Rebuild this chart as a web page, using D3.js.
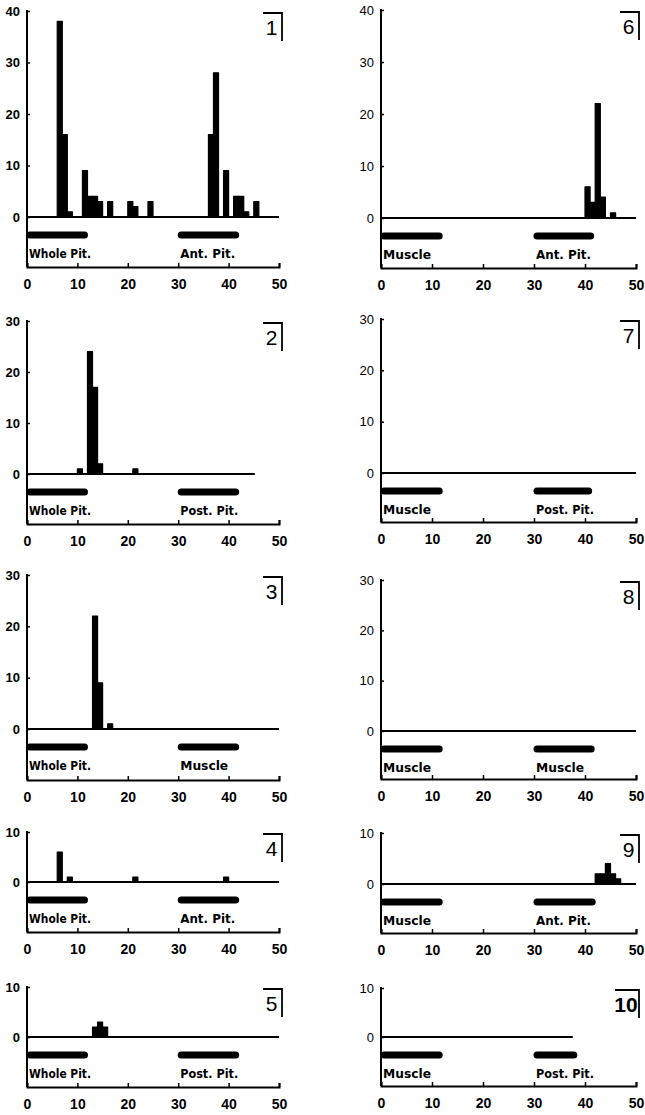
<!DOCTYPE html>
<html>
<head>
<meta charset="utf-8">
<script src="https://cdn.jsdelivr.net/npm/d3@7"></script>
<style>
  html, body { margin: 0; padding: 0; background: #fff; }
  svg { display: block; }
  text { fill: #000; }
</style>
</head>
<body>
<svg id="chart" width="645" height="1115"></svg>
<script>
// ---------- DATA ----------
const xTicks = [0, 10, 20, 30, 40, 50];
const yTicks40 = [0, 10, 20, 30, 40];
const yTicks30 = [0, 10, 20, 30];
const yTicks10 = [0, 10];

// bin start (x, 1 unit wide) and counts per panel
const p1Bins   = [6, 7, 8, 11, 12, 13, 14, 16, 20, 21, 24, 36, 37, 39, 41, 42, 43, 45];
const p1Counts = [38, 16, 1, 9, 4, 4, 3, 3, 3, 2, 3, 16, 28, 9, 4, 4, 1, 3];
const p2Bins   = [10, 12, 13, 14, 21];
const p2Counts = [1, 24, 17, 2, 1];
const p3Bins   = [13, 14, 16];
const p3Counts = [22, 9, 1];
const p4Bins   = [6, 8, 21, 39];
const p4Counts = [6, 1, 1, 1];
const p5Bins   = [13, 14, 15];
const p5Counts = [2, 3, 2];
const p6Bins   = [40, 41, 42, 43, 45];
const p6Counts = [6, 3, 22, 4, 1];
const p7Bins = [], p7Counts = [];
const p8Bins = [], p8Counts = [];
const p9Bins   = [42, 43, 44, 45, 46];
const p9Counts = [2, 2, 4, 2, 1];
const p10Bins = [], p10Counts = [];

const panelIds    = [1, 2, 3, 4, 5, 6, 7, 8, 9, 10];
const yMaxes      = [40, 30, 30, 10, 10, 40, 30, 30, 10, 10];
const leftLabels  = ["Whole Pit.", "Whole Pit.", "Whole Pit.", "Whole Pit.", "Whole Pit.",
                     "Muscle", "Muscle", "Muscle", "Muscle", "Muscle"];
const rightLabels = ["Ant. Pit.", "Post. Pit.", "Muscle", "Ant. Pit.", "Post. Pit.",
                     "Ant. Pit.", "Post. Pit.", "Muscle", "Ant. Pit.", "Post. Pit."];
const leftBarRange  = [0, 12];
const rightBarEnds  = [42, 42, 42, 42, 42, 41.7, 41.3, 41.8, 42, 38.4];
const rightBarStart = 30;
const baselineEnds  = [50, 45.2, 50, 50, 50, 50, 50, 50, 50, 37.6];
const allBins   = [p1Bins, p2Bins, p3Bins, p4Bins, p5Bins, p6Bins, p7Bins, p8Bins, p9Bins, p10Bins];
const allCounts = [p1Counts, p2Counts, p3Counts, p4Counts, p5Counts, p6Counts, p7Counts, p8Counts, p9Counts, p10Counts];

// ---------- LAYOUT (pixels) ----------
const cols = { left: [27, 279], right: [381, 636] };
const layout = [
  { col: "left",  top: 11,  zero: 217,  bottom: 267 },
  { col: "left",  top: 321, zero: 474,  bottom: 524 },
  { col: "left",  top: 575, zero: 729,  bottom: 780 },
  { col: "left",  top: 832, zero: 882,  bottom: 932 },
  { col: "left",  top: 987, zero: 1037, bottom: 1087 },
  { col: "right", top: 10,  zero: 218,  bottom: 268 },
  { col: "right", top: 319, zero: 473,  bottom: 522 },
  { col: "right", top: 580, zero: 731,  bottom: 779 },
  { col: "right", top: 833, zero: 884,  bottom: 933 },
  { col: "right", top: 988, zero: 1037, bottom: 1086 }
];
const labelWidths = { "Whole Pit.": 62, "Ant. Pit.": 55, "Post. Pit.": 58, "Muscle": 48 };

const svg = d3.select("#chart");
const FONT = "'Liberation Sans', Arial, sans-serif";

panelIds.forEach((id, i) => {
  const L = layout[i];
  const [x0, x1] = cols[L.col];
  const yMax = yMaxes[i];
  const yTicks = yMax === 40 ? yTicks40 : (yMax === 30 ? yTicks30 : yTicks10);
  const x = d3.scaleLinear().domain([0, 50]).range([x0, x1]);
  const y = d3.scaleLinear().domain([0, yMax]).range([L.zero, L.top]);
  const g = svg.append("g");

  // bars
  const data = allBins[i].map((b, k) => ({ b, c: allCounts[i][k] }));
  g.selectAll("rect.bar").data(data).join("rect")
    .attr("class", "bar")
    .attr("x", d => x(d.b))
    .attr("width", d => x(d.b + 1) - x(d.b))
    .attr("y", d => y(d.c))
    .attr("height", d => y(0) - y(d.c))
    .attr("fill", "#000")
    .attr("stroke", "#000")
    .attr("stroke-width", 1.2)
    .attr("stroke-linejoin", "round");

  // zero baseline
  g.append("line")
    .attr("x1", x(0)).attr("x2", x(baselineEnds[i]))
    .attr("y1", y(0)).attr("y2", y(0))
    .attr("stroke", "#000").attr("stroke-width", 2);

  // y axis line
  g.append("line")
    .attr("x1", x0).attr("x2", x0)
    .attr("y1", L.top - 1).attr("y2", L.bottom)
    .attr("stroke", "#000").attr("stroke-width", 2);

  // y ticks
  const yAxis = d3.axisLeft(y).tickValues(yTicks).tickSize(-3).tickPadding(7)
    .tickFormat(d3.format("d"));
  const ya = g.append("g").attr("transform", `translate(${x0},0)`).call(yAxis);
  ya.select(".domain").remove();
  ya.selectAll("line").attr("stroke", "#000").attr("stroke-width", 1.5);
  ya.selectAll("text")
    .attr("font-family", FONT)
    .attr("font-size", 13)
    .attr("font-weight", L.col === "left" ? "bold" : "normal")
    .attr("fill", "#000");

  // bottom x axis
  const xAxis = d3.axisBottom(x).tickValues(xTicks).tickSize(-4).tickPadding(12)
    .tickFormat(d3.format("d"));
  const xa = g.append("g").attr("transform", `translate(0,${L.bottom})`).call(xAxis);
  xa.select(".domain").attr("stroke", "#000").attr("stroke-width", 2);
  xa.selectAll("line").attr("stroke", "#000").attr("stroke-width", 1.5);
  xa.selectAll("text")
    .attr("font-family", FONT)
    .attr("font-size", 14)
    .attr("font-weight", "bold")
    .attr("fill", "#000");

  // label bars
  const barY = L.zero + 18;
  const segs = [
    { s: leftBarRange[0], e: leftBarRange[1], label: leftLabels[i] },
    { s: rightBarStart, e: rightBarEnds[i], label: rightLabels[i] }
  ];
  g.selectAll("line.seg").data(segs).join("line")
    .attr("class", "seg")
    .attr("x1", d => x(d.s) + 3).attr("x2", d => x(d.e) - 3)
    .attr("y1", barY).attr("y2", barY)
    .attr("stroke", "#000").attr("stroke-width", 7)
    .attr("stroke-linecap", "round");
  g.selectAll("text.seglab").data(segs).join("text")
    .attr("class", "seglab")
    .attr("x", d => x(d.s) + 2)
    .attr("y", L.zero + 41)
    .attr("font-family", "'DejaVu Sans Condensed', 'DejaVu Sans', sans-serif")
    .attr("font-size", 13)
    .attr("font-weight", "bold")
    .attr("textLength", d => labelWidths[d.label])
    .attr("lengthAdjust", "spacingAndGlyphs")
    .text(d => d.label);

  // panel number box
  const bx = x1 + 3, by = L.top + 2;
  const bw = id === 10 ? 24 : 19;
  g.append("path")
    .attr("d", `M${bx - bw},${by} L${bx},${by} L${bx},${by + 28}`)
    .attr("fill", "none").attr("stroke", "#000").attr("stroke-width", 1.8);
  g.append("text")
    .attr("x", bx - bw / 2 - 1)
    .attr("y", by + 22)
    .attr("text-anchor", "middle")
    .attr("font-family", FONT)
    .attr("font-size", 21)
    .attr("font-weight", id === 10 ? "bold" : "normal")
    .text(id);
});
</script>
</body>
</html>
